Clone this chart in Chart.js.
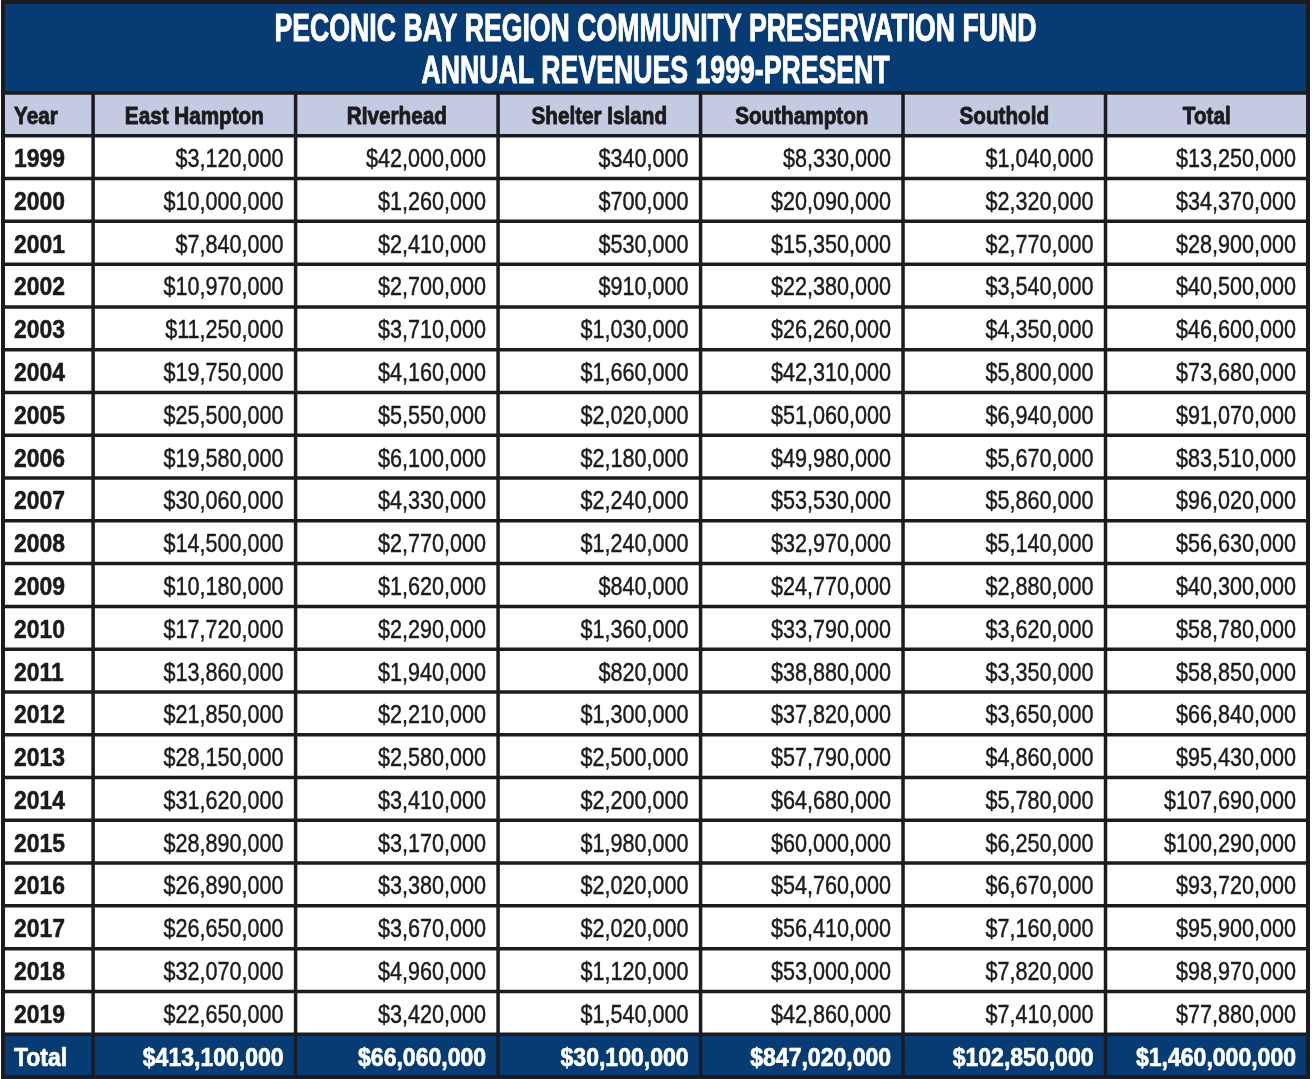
<!DOCTYPE html>
<html>
<head>
<meta charset="utf-8">
<script src="https://cdn.jsdelivr.net/npm/chart.js@4.4.1/dist/chart.umd.min.js"></script>
<style>
  html, body { margin: 0; padding: 0; background: #ffffff; }
  canvas { display: block; }
</style>
</head>
<body>
<canvas id="cpfTable" width="1312" height="1079"></canvas>
<script>
// Titel und Spalten
const titleLines = ['PECONIC BAY REGION COMMUNITY PRESERVATION FUND', 'ANNUAL REVENUES 1999-PRESENT'];
const columns = ['Year', 'East Hampton', 'RIverhead', 'Shelter Island', 'Southampton', 'Southold', 'Total'];
const years = ['1999', '2000', '2001', '2002', '2003', '2004', '2005', '2006', '2007', '2008', '2009',
  '2010', '2011', '2012', '2013', '2014', '2015', '2016', '2017', '2018', '2019'];

// Werte pro Gemeinde (USD)
const eastHampton = [3120000, 10000000, 7840000, 10970000, 11250000, 19750000, 25500000, 19580000, 30060000, 14500000, 10180000,
  17720000, 13860000, 21850000, 28150000, 31620000, 28890000, 26890000, 26650000, 32070000, 22650000];
const riverhead = [42000000, 1260000, 2410000, 2700000, 3710000, 4160000, 5550000, 6100000, 4330000, 2770000, 1620000,
  2290000, 1940000, 2210000, 2580000, 3410000, 3170000, 3380000, 3670000, 4960000, 3420000];
const shelterIsland = [340000, 700000, 530000, 910000, 1030000, 1660000, 2020000, 2180000, 2240000, 1240000, 840000,
  1360000, 820000, 1300000, 2500000, 2200000, 1980000, 2020000, 2020000, 1120000, 1540000];
const southampton = [8330000, 20090000, 15350000, 22380000, 26260000, 42310000, 51060000, 49980000, 53530000, 32970000, 24770000,
  33790000, 38880000, 37820000, 57790000, 64680000, 60000000, 54760000, 56410000, 53000000, 42860000];
const southold = [1040000, 2320000, 2770000, 3540000, 4350000, 5800000, 6940000, 5670000, 5860000, 5140000, 2880000,
  3620000, 3350000, 3650000, 4860000, 5780000, 6250000, 6670000, 7160000, 7820000, 7410000];
const yearTotals = [13250000, 34370000, 28900000, 40500000, 46600000, 73680000, 91070000, 83510000, 96020000, 56630000, 40300000,
  58780000, 58850000, 66840000, 95430000, 107690000, 100290000, 93720000, 95900000, 98970000, 77880000];
const columnTotals = [413100000, 66060000, 30100000, 847020000, 102850000, 1460000000];

const seriesValues = [eastHampton, riverhead, shelterIsland, southampton, southold, yearTotals];
const rowLabels = ['Year', ...years, 'Total'];

// Layout (Spaltenbreiten relativ, Year-Spalte schmaler)
const colWeights = [0.445, 1, 1, 1, 1, 1, 1];
const colEdges = [0];
colWeights.forEach(w => colEdges.push(colEdges[colEdges.length - 1] + w));

const NAVY = '#073b74';
const HEADER_BG = '#c4cae1';
const LINE = '#1c1b1f';
const INK = '#1b1b1d';

const money = v => '$' + v.toLocaleString('en-US');

function cellText(col, rowIdx) {
  const label = rowLabels[rowIdx];
  if (label === 'Year') return columns[col];
  if (label === 'Total') return col === 0 ? 'Total' : money(columnTotals[col - 1]);
  if (col === 0) return label;
  return money(seriesValues[col - 1][rowIdx - 1]);
}

function fitScale(ctx, font, sample, target) {
  ctx.save();
  ctx.font = font;
  const w = ctx.measureText(sample).width;
  ctx.restore();
  return target / w;
}

// text with horizontal squeeze, optional outline to fake a heavier weight
function drawText(ctx, s, x, y, align, font, sx, color, heavy) {
  ctx.save();
  ctx.font = font;
  ctx.fillStyle = color;
  ctx.strokeStyle = color;
  ctx.lineJoin = 'round';
  ctx.textAlign = align;
  ctx.textBaseline = 'alphabetic';
  ctx.translate(x, y);
  ctx.scale(sx, 1);
  ctx.fillText(s, 0, 0);
  if (heavy) {
    ctx.lineWidth = heavy;
    ctx.strokeText(s, 0, 0);
  }
  ctx.restore();
}

const tablePlugin = {
  id: 'tablePlugin',
  beforeDatasetsDraw(chart) {
    const { ctx, chartArea: a, scales: { y } } = chart;
    const band = y.getPixelForValue(1) - y.getPixelForValue(0);
    ctx.save();
    // title band
    ctx.fillStyle = NAVY;
    ctx.fillRect(a.left, 2, a.right - a.left, a.top - 2);
    // body
    ctx.fillStyle = '#ffffff';
    ctx.fillRect(a.left, a.top, a.right - a.left, a.bottom - a.top);
    // header row
    const hc = y.getPixelForValue(0);
    ctx.fillStyle = HEADER_BG;
    ctx.fillRect(a.left, hc - band / 2, a.right - a.left, band);
    // total row
    const tc = y.getPixelForValue(rowLabels.length - 1);
    ctx.fillStyle = NAVY;
    ctx.fillRect(a.left, tc - band / 2, a.right - a.left, band);
    ctx.restore();
  },
  afterDatasetsDraw(chart) {
    const { ctx, chartArea: a, scales: { x, y } } = chart;
    const band = y.getPixelForValue(1) - y.getPixelForValue(0);

    // grid lines
    ctx.save();
    ctx.strokeStyle = LINE;
    ctx.lineWidth = 3.5;
    ctx.beginPath();
    for (let i = 0; i < rowLabels.length; i++) {
      const top = y.getPixelForValue(i) - band / 2;
      ctx.moveTo(a.left, top);
      ctx.lineTo(a.right, top);
    }
    colEdges.slice(1, -1).forEach(e => {
      const px = x.getPixelForValue(e);
      ctx.moveTo(px, a.top);
      ctx.lineTo(px, a.bottom);
    });
    ctx.stroke();
    ctx.lineWidth = 4;
    ctx.strokeRect(a.left, 2, a.right - a.left, a.bottom - 2);
    ctx.restore();

    // fonts
    const fData = '25px "Liberation Sans", Arial, sans-serif';
    const fBold = 'bold 25px "Liberation Sans", Arial, sans-serif';
    const fHead = 'bold 24px "Liberation Sans", Arial, sans-serif';
    const fTitle = 'bold 39px "Liberation Sans", Arial, sans-serif';
    const sData = fitScale(ctx, fData, '$10,000,000', 120);
    const sYear = fitScale(ctx, fBold, '2000', 51);
    const sHead = fitScale(ctx, fHead, 'East Hampton', 139);
    const sTot = fitScale(ctx, fBold, '$1,460,000,000', 160);
    const sTitle = fitScale(ctx, fTitle, titleLines[0], 762);

    // title
    const cx = (a.left + a.right) / 2;
    drawText(ctx, titleLines[0], cx, a.top - 52, 'center', fTitle, sTitle, '#ffffff', 1);
    drawText(ctx, titleLines[1], cx, a.top - 10, 'center', fTitle, sTitle, '#ffffff', 1);

    // cells, anchored on the dataset points
    chart.data.datasets.forEach((ds, col) => {
      const meta = chart.getDatasetMeta(col);
      const left = x.getPixelForValue(colEdges[col]);
      const right = x.getPixelForValue(colEdges[col + 1]);
      meta.data.forEach((pt, r) => {
        const s = cellText(col, r);
        const label = rowLabels[r];
        if (label === 'Year') {
          const base = pt.y + 0.358 * 24 + 1;
          if (col === 0) drawText(ctx, s, left + 11, base, 'left', fHead, sHead, INK, 0.9);
          else drawText(ctx, s, pt.x, base, 'center', fHead, sHead, INK, 0.9);
        } else if (label === 'Total') {
          const base = pt.y + 0.358 * 25 + 1;
          if (col === 0) drawText(ctx, s, left + 11, base, 'left', fBold, sYear, '#ffffff', 0.7);
          else drawText(ctx, s, right - 12, base, 'right', fBold, sTot, '#ffffff', 0.7);
        } else {
          const base = pt.y + 0.358 * 25 + 1;
          if (col === 0) drawText(ctx, s, left + 11, base, 'left', fBold, sYear, INK, 0.5);
          else drawText(ctx, s, right - 12, base, 'right', fData, sData, INK, 0.45);
        }
      });
    });
  }
};

const datasets = columns.map((name, c) => ({
  label: name,
  data: rowLabels.map(r => ({ x: colEdges[c] + colWeights[c] / 2, y: r })),
  pointRadius: 0,
  pointHoverRadius: 0
}));

const ctx = document.getElementById('cpfTable').getContext('2d');
new Chart(ctx, {
  type: 'scatter',
  data: { datasets: datasets },
  options: {
    responsive: false,
    animation: false,
    devicePixelRatio: 1,
    layout: { padding: { left: 3, right: 4, top: 93, bottom: 2 } },
    scales: {
      x: { type: 'linear', min: 0, max: colEdges[colEdges.length - 1], display: false },
      y: { type: 'category', labels: rowLabels, offset: true, display: false }
    },
    plugins: {
      legend: { display: false },
      tooltip: { enabled: false }
    }
  },
  plugins: [tablePlugin]
});
</script>
</body>
</html>
